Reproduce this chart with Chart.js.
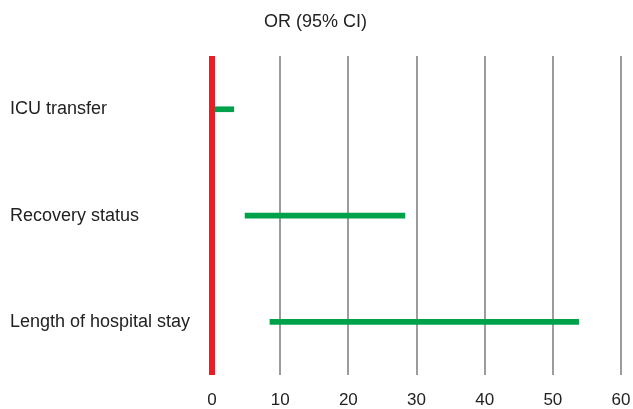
<!DOCTYPE html>
<html>
<head>
<meta charset="utf-8">
<script src="https://cdn.jsdelivr.net/npm/chart.js@4"></script>
<style>
  html, body { margin: 0; padding: 0; background: #fff; }
  #wrap { width: 633px; height: 409px; }
</style>
</head>
<body>
<div id="wrap"><canvas id="orChart"></canvas></div>
<script>
const outcomes = ["ICU transfer", "Recovery status", "Length of hospital stay"];
const ciLow = [0.45, 4.85, 8.5];
const ciHigh = [3.2, 28.3, 53.8];
const xTicks = [0, 10, 20, 30, 40, 50, 60];

const green = "#00a14b";
const red = "#ed1c24";
const gray = "#9c9c9c";

const ranges = outcomes.map((o, i) => [ciLow[i], ciHigh[i]]);

const orChart = new Chart(document.getElementById("orChart"), {
    type: "bar",
    data: {
        labels: outcomes,
        datasets: [{
            data: ranges,
            backgroundColor: green,
            borderSkipped: false,
            barThickness: 5
        }]
    },
    options: {
        indexAxis: "y",
        responsive: true,
        maintainAspectRatio: false,
        animation: false,
        layout: { padding: { left: 10, right: 12, top: 0, bottom: 0 } },
        plugins: {
            legend: { display: false },
            tooltip: { enabled: false },
            title: {
                display: true,
                text: "OR (95% CI)",
                color: "#222",
                font: { family: "Liberation Sans, Arial, sans-serif", size: 18, weight: "normal" },
                padding: { top: 11, bottom: 23.5 }
            }
        },
        scales: {
            x: {
                type: "linear",
                min: xTicks[0],
                max: xTicks[xTicks.length - 1],
                afterBuildTicks: (axis) => { axis.ticks = xTicks.map(v => ({ value: v })); },
                afterFit: (axis) => { axis.height = 34; },
                border: { display: false },
                grid: {
                    drawTicks: true,
                    tickLength: 15,
                    tickColor: "rgba(0,0,0,0)",
                    color: (ctx) => ctx.tick && ctx.tick.value === 0 ? red : gray,
                    lineWidth: (ctx) => ctx.tick && ctx.tick.value === 0 ? 6 : 2
                },
                ticks: {
                    color: "#222",
                    padding: 0,
                    font: { family: "Liberation Sans, Arial, sans-serif", size: 17 }
                }
            },
            y: {
                grid: { display: false },
                border: { display: false },
                afterFit: (axis) => { axis.width = 202; },
                ticks: {
                    crossAlign: "far",
                    color: "#222",
                    font: { family: "Liberation Sans, Arial, sans-serif", size: 18 }
                }
            }
        }
    }
});
</script>
</body>
</html>
